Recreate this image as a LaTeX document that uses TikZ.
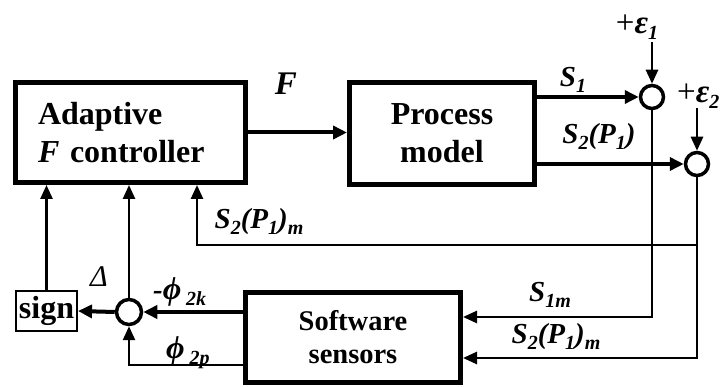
\documentclass[tikz,border=0pt]{standalone}
\usepackage{fontspec}
\setmainfont{Liberation Serif}
\usetikzlibrary{arrows.meta}
\newcommand\bigfnt{\fontsize{32}{38}\selectfont\bfseries}
\newcommand\midfnt{\fontsize{28.5}{33}\selectfont\bfseries}
\newcommand\labfnt{\fontsize{29}{30}\selectfont\bfseries\itshape}
\newcommand\sub[1]{\raisebox{-0.2em}{\fontsize{20}{20}\selectfont #1}}
\tikzset{
  blk/.style={draw, line width=5pt, inner sep=0pt, font=\bigfnt},
  sumc/.style={circle, draw, line width=3.5pt, minimum size=23pt, inner sep=0pt},
  thickarrow/.style={line width=4pt, -{Triangle[length=14pt,width=13pt]}},
  thinarrow/.style={line width=2.6pt, -{Triangle[length=14pt,width=12pt]}},
  lab/.style={inner sep=0pt, font=\labfnt}
}
\begin{document}
\begin{tikzpicture}[x=1pt,y=-1pt]
\useasboundingbox (0,0) rectangle (723,387);
% blocks
\node[blk, minimum width=230pt, minimum height=100pt, text width=185pt, align=left] (adapt) at (130.5,132.5)
  {Adaptive\\\textit{F} controller};
\node[blk, minimum width=185pt, minimum height=102pt, align=center] (proc) at (442,133.5)
  {Process\\model};
\node[blk, minimum width=215pt, minimum height=90pt, align=center, font=\midfnt] (sens) at (353,337.5)
  {Software\\sensors};
\node[draw, line width=2pt, minimum width=61pt, minimum height=40pt, inner sep=0pt, font=\bigfnt] (sign) at (46.5,311) {sign};
% summing junctions
\node[sumc] (c1) at (652,97) {};
\node[sumc] (c2) at (697,164) {};
\node[sumc, minimum size=25pt] (c3) at (129,312) {};
% coordinates
\coordinate (e1) at (652,42);
\coordinate (e2) at (697,108);
\coordinate (k1) at (652,317);
\coordinate (k2) at (697,358);
\coordinate (br) at (697,245);
\coordinate (bl) at (197,245);
\coordinate (k3) at (129,365);
% connectors
\draw[thickarrow] (adapt.east) -- (adapt.east -| proc.west);
\draw[thickarrow] (proc.east |- c1) -- (c1.west);
\draw[thickarrow] (proc.east |- c2) -- (c2.west);
\draw[thinarrow] (e1) -- (c1.north);
\draw[thinarrow] (e2) -- (c2.north);
\draw[thinarrow] (c1.south) -- (k1) -- (k1 -| sens.east);
\draw[thinarrow] (c2.south) -- (k2) -- (k2 -| sens.east);
\draw[thinarrow] (br) -- (bl) -- (bl |- adapt.south);
\draw[thinarrow] (sign.north) -- (sign.north |- adapt.south);
\draw[thinarrow] (c3.north) -- (c3.north |- adapt.south);
\draw[thickarrow] (c3.west) -- (sign.east);
\draw[thickarrow] (sens.west |- c3) -- (c3.east);
\draw[thinarrow] (sens.west |- k3) -- (k3) -- (c3.south);
% labels
\node[lab, font=\fontsize{33}{34}\selectfont\bfseries\itshape] (lF) at (286,84) {F};
\node[lab] (lS1) at (573,80) {S\sub{1}};
\node[lab] (lS2) at (599,137) {S\sub{2}(P\sub{1})};
\node[lab, font=\fontsize{33}{34}\selectfont] (le1) at (637,27) {+{\bfseries\itshape ε\sub{1}}};
\node[lab, font=\fontsize{33}{34}\selectfont, anchor=west] (le2) at (677,96) {+{\bfseries\itshape ε\sub{2}}};
\node[lab] (lS2m) at (259,222) {S\sub{2}(P\sub{1})\sub{m}};
\node[lab] (lS1m) at (550,295) {S\sub{1m}};
\node[lab] (lS2m2) at (556,337) {S\sub{2}(P\sub{1})\sub{m}};
\node[lab, font=\fontsize{30}{30}\selectfont\itshape] (lD) at (99,277) {Δ};
\node[lab, anchor=west] (lphk) at (153,292) {-{\fontsize{32}{32}\selectfont ϕ}\,\sub{2k}};
\node[lab, anchor=west] (lphp) at (166,353) {{\fontsize{32}{32}\selectfont ϕ}\,\sub{2p}};
\end{tikzpicture}
\end{document}
